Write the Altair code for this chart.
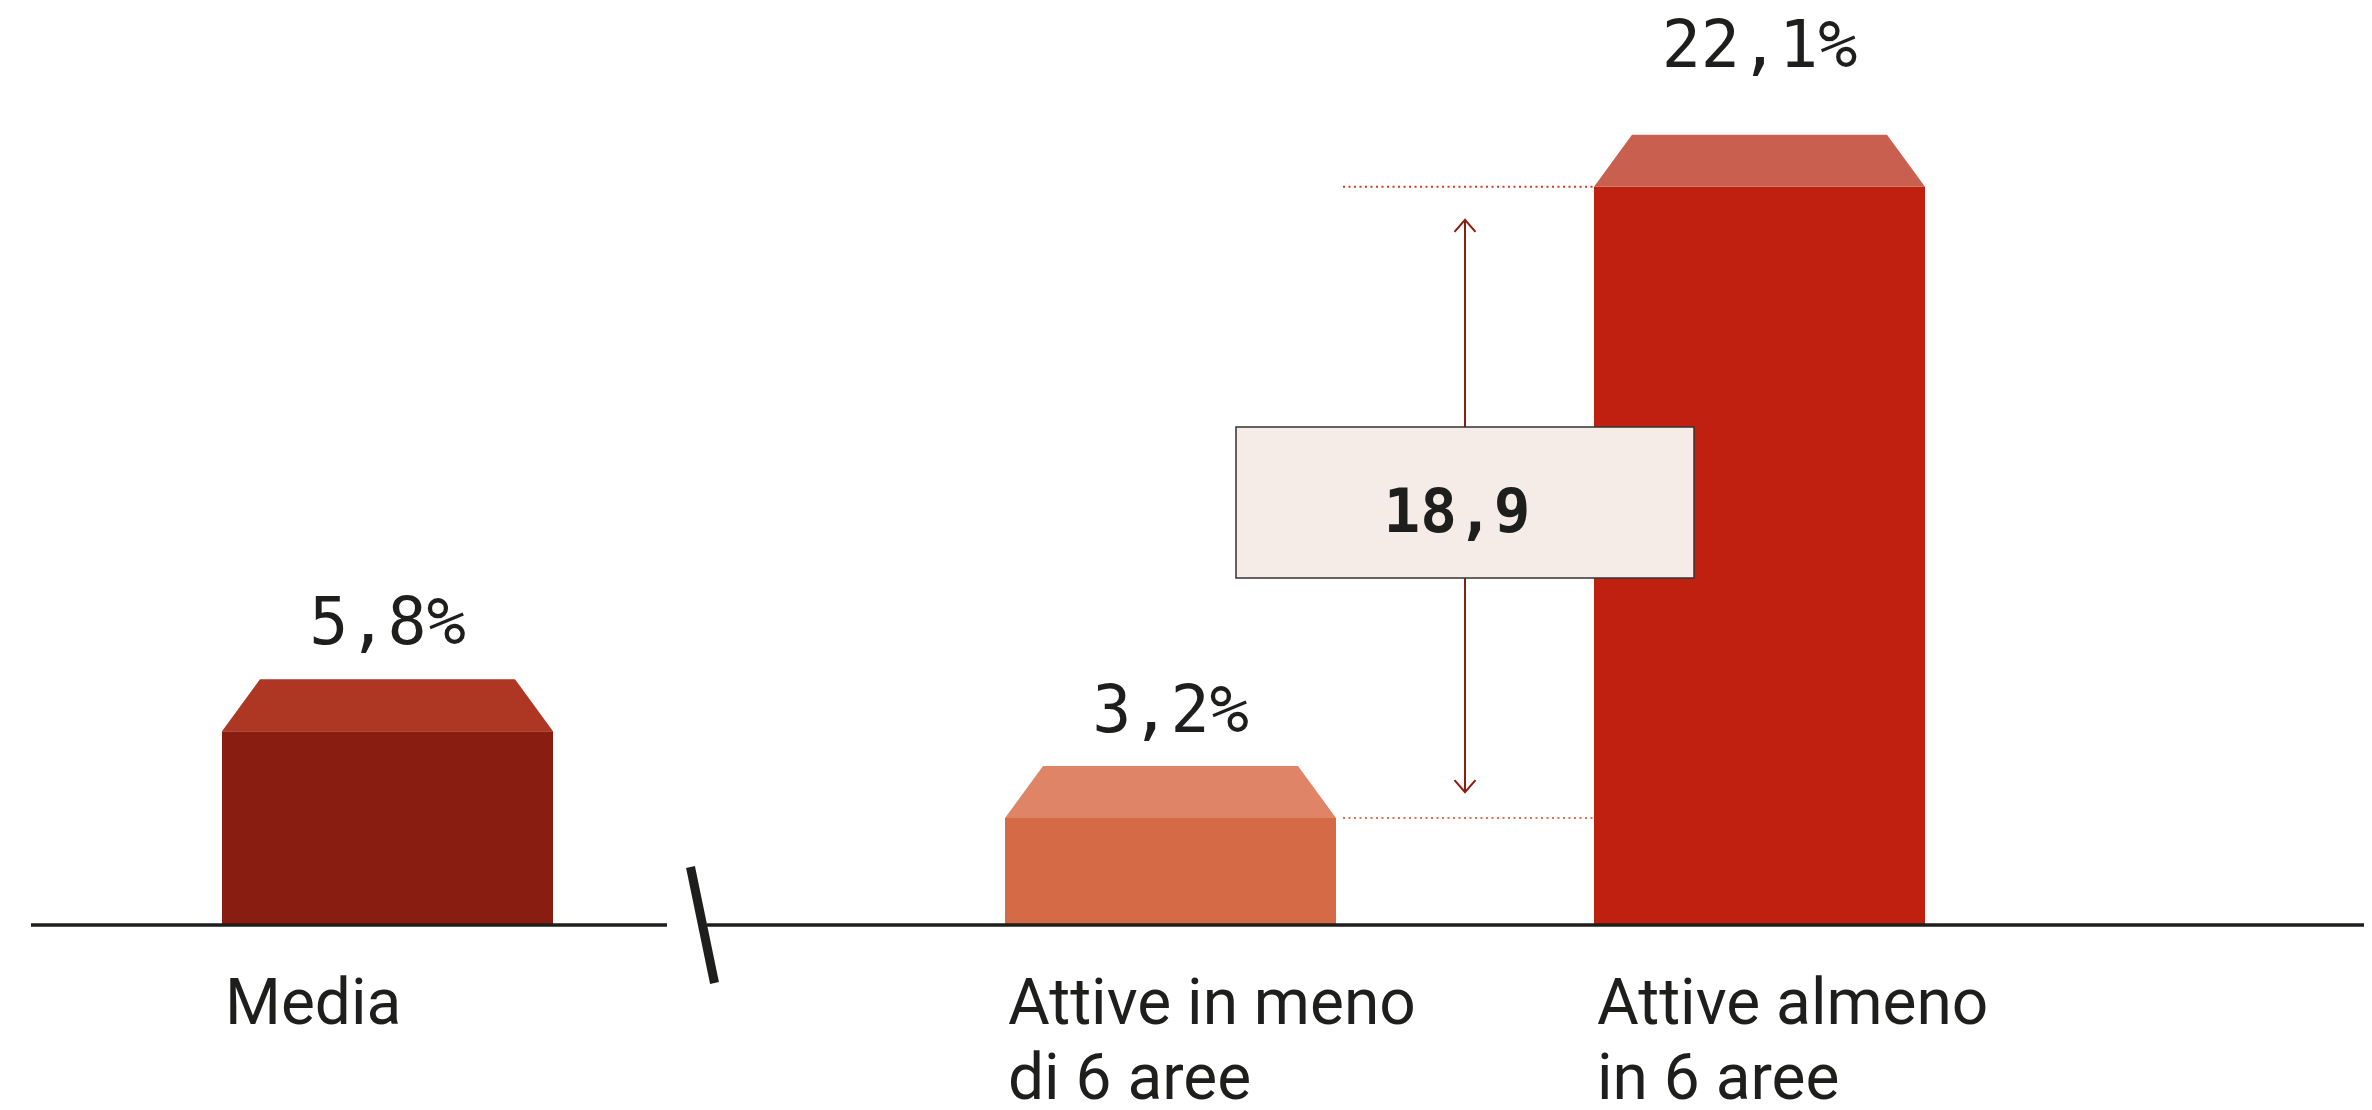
import altair as alt
import pandas as pd

# ---------------- data ----------------
categories = ["Media", "Attive in meno\ndi 6 aree", "Attive almeno\nin 6 aree"]
values = [5.8, 3.2, 22.1]
front_colors = ["#8A1D12", "#D46A46", "#C02010"]
top_colors = ["#AE3723", "#E08467", "#C95F4F"]

def fmt(v, pct=True):
    s = f"{v:.1f}".replace(".", ",")
    return s + ("%" if pct else "")

diff_value = round(values[2] - values[1], 1)
diff_label = fmt(diff_value, pct=False)

# ---------------- layout (plot pixels) ----------------
W, H = 2356, 1094
K = 33.4            # px per percentage point
ZERO_PX = 917       # y pixel of the zero line inside the plot
bar_centers = [379.5, 1162.5, 1751.5]
bar_w = 331
top_inset = 38
top_h = 52 / K
label_gap_px = [35, 34, 68]
TEXT = "#1E1E1C"

ymin = -(H - ZERO_PX) / K
ymax = ZERO_PX / K
xs = alt.Scale(domain=[0, W], nice=False, zero=False)
ys = alt.Scale(domain=[ymin, ymax], nice=False, zero=False)


def X(f):
    return alt.X(f, type="quantitative", scale=xs, axis=None)


def Y(f):
    return alt.Y(f, type="quantitative", scale=ys, axis=None)


# fronts
front_df = pd.DataFrame({
    "cat": categories,
    "x0": [c - bar_w / 2 for c in bar_centers],
    "x1": [c + bar_w / 2 for c in bar_centers],
    "y0": [0.0] * 3,
    "y1": values,
    "fill": front_colors,
})

# top faces (trapezoids)
rows = []
for cat, c, v, col in zip(categories, bar_centers, values, top_colors):
    l, r = c - bar_w / 2, c + bar_w / 2
    for xx, yy in [(l, v), (l + top_inset, v + top_h), (r - top_inset, v + top_h), (r, v)]:
        rows.append({"cat": cat, "x": xx, "y": yy, "y2": v, "fill": col})
top_df = pd.DataFrame(rows)

# value labels
val_df = pd.DataFrame({
    "x": bar_centers,
    "y": [v + top_h + g / K for v, g in zip(values, label_gap_px)],
    "label": [fmt(v) for v in values],
})

# category labels
cat_df = pd.DataFrame({
    "x": [c - bar_w / 2 + 3 for c in bar_centers],
    "y": [-99 / K] * 3,
    "label": categories,
})

# baseline with break
base_df = pd.DataFrame({"x0": [23, 699], "x1": [659, 2364], "y": [0, 0]})
slash_df = pd.DataFrame({"x0": [682.5], "x1": [706.5], "y0": [58 / K], "y1": [-58 / K]})

# difference annotation
arrow_x = ((bar_centers[1] + bar_w / 2) + (bar_centers[2] - bar_w / 2)) / 2
dot_df = pd.DataFrame({
    "x0": [bar_centers[1] + bar_w / 2 + 7] * 2,
    "x1": [bar_centers[2] - bar_w / 2] * 2,
    "y": [values[1], values[2]],
    "col": ["#E2714F", "#D8392A"],
})
arrow_top = values[2] - 33 / K
arrow_bot = values[1] + 26 / K
arrow_df = pd.DataFrame({"x": [arrow_x], "y0": [arrow_bot], "y1": [arrow_top]})
head_up_df = pd.DataFrame({"x": [arrow_x], "y": [arrow_top]})
head_dn_df = pd.DataFrame({"x": [arrow_x], "y": [arrow_bot]})
mid = (values[1] + values[2]) / 2
box_df = pd.DataFrame({
    "x0": [arrow_x - 229], "x1": [arrow_x + 229],
    "y0": [mid - 75.5 / K], "y1": [mid + 75.5 / K],
})
box_txt_df = pd.DataFrame({"x": [arrow_x - 8], "y": [mid], "label": [diff_label]})

# ---------------- layers ----------------
dots = alt.Chart(dot_df).mark_rule(strokeWidth=2, strokeDash=[2, 3.5]).encode(
    x=X("x0"), x2="x1", y=Y("y"), color=alt.Color("col:N", scale=None))

fronts = alt.Chart(front_df).mark_rect().encode(
    x=X("x0"), x2="x1", y=Y("y0"), y2="y1", color=alt.Color("fill:N", scale=None))

tops = alt.Chart(top_df).mark_area(opacity=1).encode(
    x=X("x"), y=Y("y"), y2="y2", color=alt.Color("fill:N", scale=None), detail="cat:N")

base = alt.Chart(base_df).mark_rule(strokeWidth=3.5, color=TEXT).encode(
    x=X("x0"), x2="x1", y=Y("y"))

slash = alt.Chart(slash_df).mark_rule(strokeWidth=9, color=TEXT, strokeCap="butt").encode(
    x=X("x0"), x2="x1", y=Y("y0"), y2="y1")

arrow = alt.Chart(arrow_df).mark_rule(strokeWidth=2, color="#8B1E12").encode(
    x=X("x"), y=Y("y0"), y2="y1")

head_up = alt.Chart(head_up_df).mark_point(
    shape="M -1 1.15 L 0 0 L 1 1.15", size=441, filled=False, strokeWidth=2,
    color="#8B1E12", opacity=1).encode(x=X("x"), y=Y("y"))

head_dn = alt.Chart(head_dn_df).mark_point(
    shape="M -1 -1.15 L 0 0 L 1 -1.15", size=441, filled=False, strokeWidth=2,
    color="#8B1E12", opacity=1).encode(x=X("x"), y=Y("y"))

box = alt.Chart(box_df).mark_rect(fill="#F5ECE8", stroke="#333333", strokeWidth=1.5).encode(
    x=X("x0"), x2="x1", y=Y("y0"), y2="y1")

box_txt = alt.Chart(box_txt_df).mark_text(
    font="DejaVu Sans Mono", fontSize=61, fontWeight="bold", color=TEXT,
    align="center", baseline="alphabetic", dy=29.5).encode(
    x=X("x"), y=Y("y"), text="label:N")

val_txt = alt.Chart(val_df).mark_text(
    font="DejaVu Sans Mono", fontSize=65, color=TEXT,
    align="center", baseline="alphabetic").encode(
    x=X("x"), y=Y("y"), text="label:N")

cat_txt = alt.Chart(cat_df).mark_text(
    font="Roboto", fontSize=64, color=TEXT, align="left", baseline="alphabetic",
    lineBreak="\n", lineHeight=75).encode(
    x=X("x"), y=Y("y"), text="label:N")

chart = alt.layer(
    dots, fronts, tops, base, slash, arrow, head_up, head_dn, box, box_txt, val_txt, cat_txt
).properties(
    width=W, height=H, autosize=alt.AutoSizeParams(type="none"), padding=0,
    background="white",
).configure_view(stroke=None)

chart.save("out.html", embed_options={"renderer": "svg", "actions": False})
